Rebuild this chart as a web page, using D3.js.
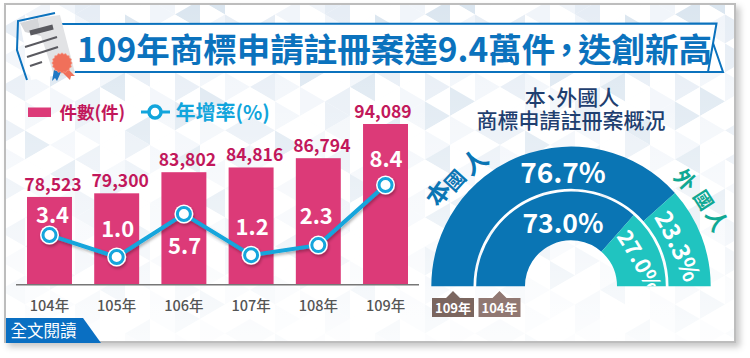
<!DOCTYPE html>
<html>
<head>
<meta charset="utf-8">
<script src="https://cdn.jsdelivr.net/npm/d3@7"></script>
<style>
  html, body { margin: 0; padding: 0; background: #fff; }
  svg { display: block; }
  text { font-family: "Noto Sans CJK TC", "Noto Sans", sans-serif; }
</style>
</head>
<body>
<div id="chart"></div>
<script>
const years = ["104年", "105年", "106年", "107年", "108年", "109年"];
const counts = [78523, 79300, 83802, 84816, 86794, 94089];
const growth = [3.4, 1.0, 5.7, 1.2, 2.3, 8.4];
const share109 = [76.7, 23.3];
const share104 = [73.0, 27.0];
const tags = ["109年", "104年"];

const width = 750;
const height = 358;
const svg = d3.select("#chart").append("svg").attr("width", width).attr("height", height);
const defs = svg.append("defs");

defs.append("filter").attr("id", "frameShadow").attr("x", "-5%").attr("y", "-5%").attr("width", "110%").attr("height", "110%")
  .append("feDropShadow").attr("dx", 4).attr("dy", 4).attr("stdDeviation", 3).attr("flood-color", "#000").attr("flood-opacity", 0.22);
defs.append("filter").attr("id", "lineShadow").attr("x", "-10%").attr("y", "-20%").attr("width", "120%").attr("height", "150%")
  .append("feDropShadow").attr("dx", 1).attr("dy", 2).attr("stdDeviation", 1.5).attr("flood-color", "#000").attr("flood-opacity", 0.3);
defs.append("clipPath").attr("id", "frameClip").append("rect").attr("x", 6).attr("y", 5).attr("width", 728).attr("height", 336);
defs.append("clipPath").attr("id", "topHalf").append("rect").attr("x", -150).attr("y", -150).attr("width", 300).attr("height", 150);
const fade = defs.append("linearGradient").attr("id", "fade").attr("x1", 0).attr("y1", 0).attr("x2", 0).attr("y2", 1);
fade.append("stop").attr("offset", "0%").attr("stop-color", "#fff").attr("stop-opacity", 0);
fade.append("stop").attr("offset", "45%").attr("stop-color", "#fff").attr("stop-opacity", 0.35);
fade.append("stop").attr("offset", "100%").attr("stop-color", "#fff").attr("stop-opacity", 0.85);

// frame
svg.append("rect").attr("x", 5).attr("y", 4).attr("width", 730).attr("height", 338)
  .attr("fill", "#fff").attr("stroke", "#bdbdbd").attr("stroke-width", 2).attr("filter", "url(#frameShadow)");

// background triangles, shades repeat over the frame
const shadeRows = ["0102001300", "2001030012", "0310020100", "1002001302", "0030120010", "2100300201", "0012001030"];
const shadeColors = ["#ffffff", "#f1f5fa", "#e6edf5", "#dbe6f0"];
const triW = 25, triH = 14.5;
const bg = svg.append("g").attr("clip-path", "url(#frameClip)");
bg.append("rect").attr("x", 6).attr("y", 5).attr("width", 728).attr("height", 336).attr("fill", "#fafcfe");
for (let r = -1; r < 24; r++) {
  for (let c = 0; c < 30; c++) {
    const row = shadeRows[(r + 7) % shadeRows.length];
    const shade = shadeColors[+row[c % row.length]];
    const x = c * triW, y = r * triH;
    const pts = (c + r + 2) % 2 === 0
      ? [[x, y], [x, y + 2 * triH], [x + triW, y + triH]]
      : [[x + triW, y], [x + triW, y + 2 * triH], [x, y + triH]];
    bg.append("polygon").attr("points", pts.join(" ")).attr("fill", shade);
  }
}
bg.append("rect").attr("x", 6).attr("y", 5).attr("width", 728).attr("height", 336).attr("fill", "url(#fade)");

// title banner
svg.append("path").attr("d", "M713 43L723 72L706 72Z").attr("fill", "#fff").attr("stroke", "#0b72bd").attr("stroke-width", 2).attr("stroke-linejoin", "miter");
svg.append("path").attr("d", "M60 24L716.5 23.5L708 72L60 72Z").attr("fill", "#fff").attr("stroke", "#0b72bd").attr("stroke-width", 2);
const title = svg.append("text").attr("x", 77).attr("y", 62).attr("font-size", 33.5).attr("font-weight", 700).attr("fill", "#0b72bd");
title.append("tspan").text("109年商標申請註冊案達9.4萬件");
title.append("tspan").style("font-feature-settings", '"palt"').attr("dx", 3).text("，");
title.append("tspan").attr("dx", 3).text("迭創新高");

// certificate icon
const icon = svg.append("g");
icon.append("path").attr("d", "M55 13L18 21L17 50L27 80").attr("fill", "none").attr("stroke", "#0b72bd").attr("stroke-width", 2);
icon.append("polygon").attr("points", "20,23 57,15 75,72 31,80").attr("fill", "#fff");
icon.append("polygon").attr("points", "38,18 60,15 75,73 55,78 41,36").attr("fill", "#e2e3e5");
icon.append("polygon").attr("points", "20,23 38,18 41,36 25,32").attr("fill", "#d5d6d9");
[[30, 33, 53, 27, 5], [25, 47, 57, 37, 2], [27, 57, 58, 47, 2], [30, 66, 42, 62, 2]].forEach(l => {
  icon.append("line").attr("x1", l[0]).attr("y1", l[1]).attr("x2", l[2]).attr("y2", l[3])
    .attr("stroke", "#5a5a60").attr("stroke-width", l[4]);
});
icon.append("polygon").attr("points", "54,70 61,72 57,81 55,78 52,81").attr("fill", "#1f78c4");
icon.append("polygon").attr("points", "62,72 68,69 75,76 71,76 70,80").attr("fill", "#f0705a");
icon.append("path").attr("fill", "#f0705a").attr("stroke", "#f7a08d").attr("stroke-width", 0.6).attr("transform", "translate(62,63)")
  .attr("d", d3.lineRadial().curve(d3.curveLinearClosed)(d3.range(32).map(i => [i * Math.PI / 16, i % 2 ? 9 : 10.2])));

// bars
const x = d3.scaleBand().domain(years).range([27, 408]).paddingInner(0.331).paddingOuter(0);
const y = d3.scaleLinear().domain([59800, 94089]).range([284.7, 124]);
const yRate = d3.scaleLinear().domain([1.0, 5.7, 8.4]).range([257, 214, 185]);
const cx = d => x(d) + x.bandwidth() / 2;

const barData = years.map((year, i) => ({ year, count: counts[i], rate: growth[i] }));
svg.append("g").selectAll("rect").data(barData).join("rect")
  .attr("x", d => x(d.year)).attr("y", d => y(d.count))
  .attr("width", x.bandwidth()).attr("height", d => y.range()[0] - y(d.count))
  .attr("fill", "#dc3a78");

// count labels sit a little off the bar centre in the original
const countDx = [3.5, 3.5, 3.5, 3.5, 3.5, -2.5];
svg.append("g").selectAll("text").data(barData).join("text")
  .attr("x", (d, i) => cx(d.year) + countDx[i]).attr("y", d => y(d.count) - 6)
  .attr("text-anchor", "middle").attr("font-size", 17.5).attr("font-weight", 700).attr("fill", "#c2185b")
  .text(d => d3.format(",")(d.count));

// axis
svg.append("line").attr("x1", 16).attr("x2", 419).attr("y1", 284.7).attr("y2", 284.7).attr("stroke", "#777").attr("stroke-width", 1.5);
const axis = svg.append("g").attr("transform", "translate(0,284.7)").call(d3.axisBottom(x).tickSize(0).tickPadding(16));
axis.select(".domain").remove();
axis.selectAll("text").attr("font-size", 14.5).attr("font-weight", 500).attr("fill", "#555")
  .style("font-family", '"Noto Sans CJK TC", sans-serif');

// growth line
const line = d3.line().x(d => cx(d.year)).y(d => yRate(d.rate));
const lineG = svg.append("g").attr("filter", "url(#lineShadow)");
lineG.append("path").attr("d", line(barData)).attr("fill", "none").attr("stroke", "#12a5dc").attr("stroke-width", 4);
lineG.selectAll("circle.halo").data(barData).join("circle").attr("class", "halo")
  .attr("cx", d => cx(d.year)).attr("cy", d => yRate(d.rate)).attr("r", 9.5).attr("fill", "#fff");
lineG.selectAll("circle.dot").data(barData).join("circle").attr("class", "dot")
  .attr("cx", d => cx(d.year)).attr("cy", d => yRate(d.rate)).attr("r", 6.5)
  .attr("fill", "#fff").attr("stroke", "#12a5dc").attr("stroke-width", 3);

const rateDx = [3, 1, 0.7, 1, -2, 0.5];
const rateDy = [-19.5, -28, 32, -28, -29, -26];
svg.append("g").selectAll("text").data(barData).join("text")
  .attr("x", (d, i) => cx(d.year) + rateDx[i]).attr("y", (d, i) => yRate(d.rate) + rateDy[i])
  .attr("dy", "0.36em").attr("text-anchor", "middle").attr("font-size", 22).attr("font-weight", 700).attr("fill", "#fff")
  .text(d => d.rate.toFixed(1));

// legend
svg.append("rect").attr("x", 28).attr("y", 107.5).attr("width", 23).attr("height", 9.5).attr("fill", "#dc3a78");
svg.append("text").attr("x", 59.5).attr("y", 119).attr("font-size", 17.5).attr("font-weight", 700).attr("fill", "#c2185b").text("件數(件)");
svg.append("line").attr("x1", 141).attr("x2", 170).attr("y1", 112).attr("y2", 112).attr("stroke", "#12a5dc").attr("stroke-width", 3);
svg.append("circle").attr("cx", 155).attr("cy", 112).attr("r", 6).attr("fill", "#fff").attr("stroke", "#12a5dc").attr("stroke-width", 3.5);
svg.append("text").attr("x", 175.5).attr("y", 120).attr("font-size", 20).attr("font-weight", 700).attr("fill", "#12a5dc").text("年增率(%)");

// right title
const rightTitle = svg.append("g").attr("text-anchor", "middle").attr("fill", "#1f3f70").attr("font-weight", 500);
const rt1 = rightTitle.append("text").attr("x", 572).attr("y", 105).attr("font-size", 21);
rt1.append("tspan").text("本");
rt1.append("tspan").style("font-feature-settings", '"palt"').text("、");
rt1.append("tspan").text("外國人");
rightTitle.append("text").attr("x", 571).attr("y", 128).attr("font-size", 21).text("商標申請註冊案概況");

// half donuts
const centerX = 571, centerY = 286.3;
const pie = d3.pie().sort(null).startAngle(-Math.PI / 2).endAngle(Math.PI / 2);
const ringColors = ["#0a75b4", "#20c4c0"];
const donut = svg.append("g").attr("transform", `translate(${centerX},${centerY})`);
const outerArc = d3.arc().innerRadius(97.5).outerRadius(139.7);
const innerArc = d3.arc().innerRadius(46).outerRadius(94.8);
donut.append("g").selectAll("path").data(pie(share109)).join("path").attr("d", outerArc).attr("fill", (d, i) => ringColors[i]);
donut.append("g").selectAll("path").data(pie(share104)).join("path").attr("d", innerArc).attr("fill", (d, i) => ringColors[i]);

const pct = v => v.toFixed(1) + "%";
donut.append("text").attr("x", -8).attr("y", -113.5).attr("dy", "0.36em").attr("text-anchor", "middle")
  .attr("font-size", 28).attr("font-weight", 700).attr("fill", "#fff").text(pct(share109[0]));
donut.append("text").attr("x", -8).attr("y", -62.5).attr("dy", "0.36em").attr("text-anchor", "middle")
  .attr("font-size", 26.5).attr("font-weight", 700).attr("fill", "#fff").text(pct(share104[0]));

// teal shares follow a shallow curve down the ring
function alongCurve(id, d, value, size, offset) {
  defs.append("path").attr("id", id).attr("d", d);
  donut.append("g").attr("clip-path", "url(#topHalf)")
    .append("text").attr("font-size", size).attr("font-weight", 700).attr("fill", "#fff").attr("text-anchor", "middle")
    .append("textPath").attr("href", "#" + id).attr("startOffset", offset).text(value);
}
alongCurve("tealOuter", "M81 -72Q97 -46 117 4", pct(share109[1]), 24, "48%");
alongCurve("tealInner", "M42 -54Q60 -29 84 20", pct(share104[1]), 21.5, "45%");

// curved side labels, one glyph at a time, the middle glyph is set smaller
function sideLabel(chars, angles, radii, color, sizes) {
  donut.append("g").selectAll("text").data(chars).join("text")
    .attr("transform", (d, i) => `rotate(${angles[i]}) translate(0,${-radii[i]})`)
    .attr("dy", "0.36em").attr("text-anchor", "middle").attr("font-size", (d, i) => sizes[i]).attr("font-weight", 700).attr("fill", color)
    .text(d => d);
}
sideLabel(["本", "國", "人"], [-55, -47.6, -37.7], [162, 157, 157], "#0a75b4", [24, 20, 25]);
sideLabel(["外", "國", "人"], [47, 57, 65.7], [156, 158, 160], "#10a893", [21, 19, 22]);

// year tags under the donut
const tagX = d3.scalePoint().domain(tags).range([453, 499.5]);
const tagG = svg.append("g").selectAll("g").data(tags).join("g").attr("transform", d => `translate(${tagX(d)},0)`);
const tagFill = d3.scaleOrdinal().domain(tags).range(["#7b665f", "#917872"]);
tagG.append("path").attr("d", "M-21 298H-7L0 291L7 298H21V317H-21Z").attr("fill", tagFill);
tagG.append("text").attr("y", 313).attr("text-anchor", "middle").attr("font-size", 13).attr("font-weight", 700).attr("fill", "#fff").text(d => d);

// read more tab
svg.append("polygon").attr("points", "6,318 83,318 101,343 6,343").attr("fill", "#0a6fc2");
svg.append("text").attr("x", 10.5).attr("y", 337).attr("font-size", 16.5).attr("font-weight", 400).attr("fill", "#fff").text("全文閱讀");
</script>
</body>
</html>
